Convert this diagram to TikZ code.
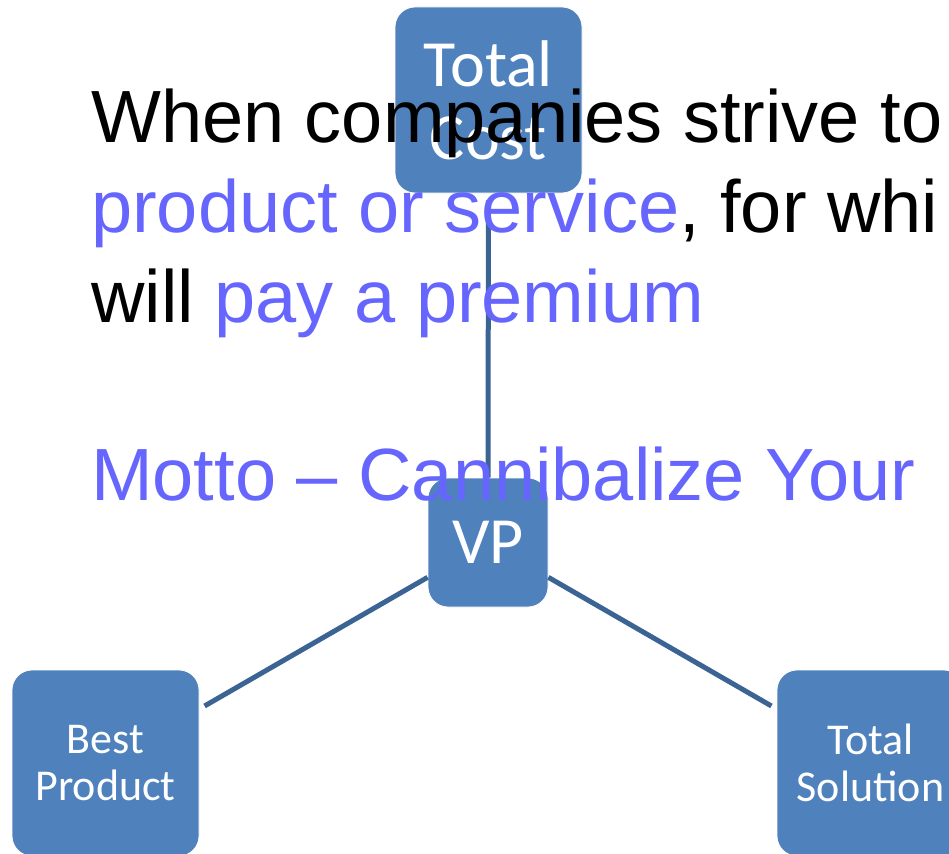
\documentclass[tikz,border=0pt]{standalone}
\usepackage{fontspec}
\setmainfont{Liberation Sans}
\newfontfamily\boxfont{Carlito}
\definecolor{boxblue}{RGB}{79,129,189}
\definecolor{linkblue}{RGB}{59,100,148}
\definecolor{txtblue}{RGB}{102,102,255}
\tikzset{
  vpbox/.style={rectangle, rounded corners=20pt, fill=boxblue, draw=white, line width=0.8pt,
    text=white, align=center, inner sep=0pt, font=\boxfont},
  bigbox/.style={vpbox, minimum width=187pt, minimum height=186pt},
  bottombox/.style={bigbox, font=\boxfont\fontsize{44}{47}\selectfont},
  link/.style={draw=linkblue, line width=5pt},
  maintext/.style={anchor=base west, inner sep=0pt, font=\fontsize{74}{89}\selectfont}
}
\begin{document}
\begin{tikzpicture}[x=1pt,y=-1pt]
\useasboundingbox (0,0) rectangle (949,853);
% boxes
\node[bigbox, font=\boxfont\fontsize{66}{73}\selectfont] (tc) at (488.5,100) {Total\\Cost};
\node[vpbox, minimum width=120pt, minimum height=129pt, font=\boxfont\fontsize{66}{73}\selectfont] (vp) at (488,542.5) {VP};
\node[bottombox] (bp) at (105.5,763) {Best\\Product};
\node[bottombox] (ts) at (870.5,763) {Total\\Solution};
% connectors
\draw[link, shorten <=7pt] (tc) -- (vp);
\draw[link, shorten >=6pt] (vp) -- (bp);
\draw[link, shorten >=6pt] (vp) -- (ts);
% text
\node[maintext] (l1) at (91,143) {When companies strive to};
\node[maintext] (l2) at (91,232) {\textcolor{txtblue}{product or service}, for whi};
\node[maintext] (l3) at (91,322) {will \textcolor{txtblue}{pay a premium}};
\node[maintext, text=txtblue] (l4) at (91,500) {Motto – Cannibalize Your};
\end{tikzpicture}
\end{document}
